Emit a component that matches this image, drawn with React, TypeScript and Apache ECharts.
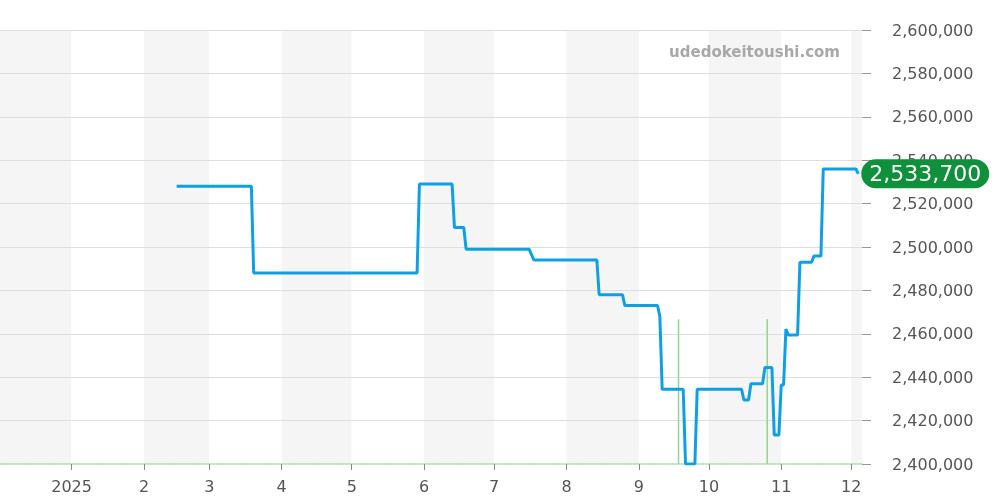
import React, { useEffect, useRef } from "react";
import * as echarts from "echarts";

const priceDates = [
  "2025-02-15", "2025-03-19", "2025-03-20", "2025-05-29", "2025-05-30",
  "2025-06-13", "2025-06-14", "2025-06-18", "2025-06-19", "2025-07-16",
  "2025-07-18", "2025-08-14", "2025-08-15", "2025-08-25", "2025-08-26",
  "2025-09-09", "2025-09-10", "2025-09-11", "2025-09-20", "2025-09-21",
  "2025-09-25", "2025-09-26", "2025-10-15", "2025-10-16", "2025-10-18",
  "2025-10-19", "2025-10-24", "2025-10-25", "2025-10-28", "2025-10-29",
  "2025-10-31", "2025-11-01", "2025-11-02", "2025-11-03", "2025-11-04",
  "2025-11-08", "2025-11-09", "2025-11-14", "2025-11-15", "2025-11-18",
  "2025-11-19", "2025-12-03", "2025-12-04",
];
const priceValues = [
  2528000, 2528000, 2488000, 2488000, 2529000,
  2529000, 2509000, 2509000, 2499000, 2499000,
  2494000, 2494000, 2478000, 2478000, 2473000,
  2473000, 2468000, 2434400, 2434400, 2400000,
  2400000, 2434400, 2434400, 2429500, 2429500,
  2437000, 2437000, 2444500, 2444500, 2413400,
  2413400, 2436400, 2436400, 2462200, 2459400,
  2459400, 2493000, 2493000, 2495800, 2495800,
  2536000, 2536000, 2533700,
];
const volumeDates = ["2025-09-18", "2025-10-26"];
const volumeValues = [1, 1];

const axisMin = "2024-12-01 15:20:00";
const axisMax = "2025-12-05 06:40:00";
const yMin = 2400000;
const yMax = 2600000;
const yStep = 20000;
const watermark = "udedokeitoushi.com";

const fmt = (v: number) => v.toLocaleString("en-US");

export default function App() {
  const ref = useRef<HTMLDivElement>(null);
  useEffect(() => {
    if (!ref.current) return;
    const chart = echarts.init(ref.current, undefined, { renderer: "svg" });
    const font = "DejaVu Sans";
    chart.setOption({
      animation: false,
      textStyle: { fontFamily: font },
      grid: { left: 0, right: 138, top: 30, bottom: 36 },
      xAxis: {
        type: "time",
        min: axisMin,
        max: axisMax,
        minInterval: 28 * 86400000,
        maxInterval: 31 * 86400000,
        z: 0,
        axisLine: { show: true, lineStyle: { color: "#a6d8a6", type: "dotted", width: 1.5 } },
        axisTick: { show: true, length: 6, lineStyle: { color: "#888" } },
        axisLabel: {
          color: "#555",
          fontSize: 16,
          fontFamily: font,
          margin: 14,
          showMinLabel: false,
          showMaxLabel: false,
          hideOverlap: false,
          formatter: (v: number) => {
            const d = new Date(v);
            return d.getMonth() === 0 ? String(d.getFullYear()) : String(d.getMonth() + 1);
          },
        },
        splitLine: { show: false },
        splitArea: { show: true, areaStyle: { color: ["#f5f5f5", "#ffffff"] } },
      },
      yAxis: [
        {
          type: "value",
          position: "right",
          min: yMin,
          max: yMax,
          interval: yStep,
          z: 1,
          axisLine: { show: false },
          axisTick: { show: true, length: 9, lineStyle: { color: "#999" } },
          axisLabel: { color: "#555", fontSize: 16, fontFamily: font, margin: 30, formatter: fmt },
          splitLine: { show: true, showMinLine: false, lineStyle: { color: "#dedede" } },
        },
        {
          type: "value",
          min: 0,
          max: 3,
          show: false,
          splitLine: { show: false },
        },
      ],
      graphic: [
        {
          type: "text",
          right: 160,
          top: 44,
          style: {
            text: watermark,
            fill: "#a8a8a8",
            font: `bold 15px ${font}`,
          },
          z: 1,
        },
      ],
      series: [
        {
          type: "bar",
          yAxisIndex: 1,
          barWidth: 1.5,
          itemStyle: { color: "#8fd68f" },
          data: volumeDates.map((d, i) => [d, volumeValues[i]]),
          z: 2,
        },
        {
          type: "line",
          data: priceDates.map((d, i) => [d, priceValues[i]]),
          showSymbol: false,
          symbol: "none",
          lineStyle: { color: "#0ea0e6", width: 3 },
          z: 3,
          endLabel: {
            show: true,
            formatter: (p: any) => fmt(p.value[1]),
            color: "#fff",
            backgroundColor: "#0f913b",
            borderRadius: 16,
            padding: [4, 8, 3, 8],
            fontSize: 22,
            fontFamily: font,
            distance: 3,
          },
        },
      ],
    });
    return () => chart.dispose();
  }, []);
  return (
    <div
      ref={ref}
      style={{ position: "fixed", left: 0, top: 0, width: 1000, height: 500 }}
    />
  );
}
